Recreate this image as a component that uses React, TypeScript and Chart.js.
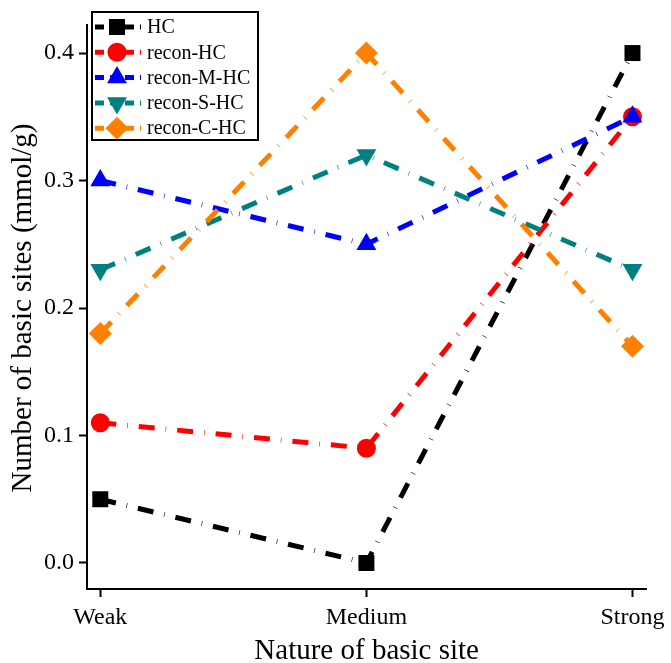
import React, { useEffect, useRef } from "react";
import { Chart, registerables } from "chart.js";
Chart.register(...registerables);

const categories = ["Weak", "Medium", "Strong"];
const hc = [0.05, 0.0, 0.4];
const reconHC = [0.11, 0.09, 0.35];
const reconMHC = [0.3, 0.25, 0.35];
const reconSHC = [0.23, 0.32, 0.23];
const reconCHC = [0.18, 0.4, 0.17];
const seriesNames = ["HC", "recon-HC", "recon-M-HC", "recon-S-HC", "recon-C-HC"];
const yTicks = [0.0, 0.1, 0.2, 0.3, 0.4];

const FONT = "'Liberation Serif', 'Times New Roman', serif";
const DASH = [16, 11, 0.6, 11];

export default function App() {
  const ref = useRef<HTMLCanvasElement>(null);
  useEffect(() => {
    const styles = [
      { c: "#000000", p: "rect", r: 11.3, rot: 0 },
      { c: "#ff0000", p: "circle", r: 9.5, rot: 0 },
      { c: "#0000ff", p: "triangle", r: 11.5, rot: 0 },
      { c: "#008080", p: "triangle", r: 11.5, rot: 180 },
      { c: "#ff8000", p: "rectRot", r: 11.5, rot: 0 },
    ];
    const values = [hc, reconHC, reconMHC, reconSHC, reconCHC];
    const datasets = values.map((v, i) => ({
      label: seriesNames[i],
      data: v.map((y, j) => ({ x: j, y })),
      borderColor: styles[i].c,
      backgroundColor: styles[i].c,
      borderWidth: 5,
      borderDash: DASH,
      pointStyle: styles[i].p as any,
      pointRadius: styles[i].r,
      pointRotation: styles[i].rot,
      pointBorderWidth: 0,
      pointBackgroundColor: styles[i].c,
      pointBorderColor: styles[i].c,
      order: 5 - i,
      clip: false as any,
      tension: 0,
    }));

    function drawPoint(ctx: any, p: string, r: number, rot: number, x: number, y: number) {
      ctx.beginPath();
      if (p === "rect") {
        const s = r * Math.SQRT1_2;
        ctx.rect(x - s, y - s, 2 * s, 2 * s);
      } else if (p === "circle") {
        ctx.arc(x, y, r, 0, Math.PI * 2);
      } else if (p === "triangle") {
        const a = (rot * Math.PI) / 180;
        for (let k = 0; k < 3; k++) {
          const t = a - Math.PI / 2 + (k * 2 * Math.PI) / 3;
          const px = x + Math.cos(t) * r;
          const py = y + Math.sin(t) * r;
          if (k === 0) ctx.moveTo(px, py);
          else ctx.lineTo(px, py);
        }
        ctx.closePath();
      } else if (p === "rectRot") {
        ctx.moveTo(x, y - r);
        ctx.lineTo(x + r, y);
        ctx.lineTo(x, y + r);
        ctx.lineTo(x - r, y);
        ctx.closePath();
      }
      ctx.fill();
    }

    const custom = {
      id: "custom",
      afterDraw(chart: any) {
        const ctx = chart.ctx;
        const area = chart.chartArea;
        ctx.save();
        ctx.fillStyle = "#000";
        ctx.font = `29px ${FONT}`;
        ctx.textAlign = "center";
        ctx.textBaseline = "middle";
        ctx.fillText("Nature of basic site", (area.left + area.right) / 2, 651);
        ctx.save();
        ctx.translate(23, 308);
        ctx.rotate(-Math.PI / 2);
        ctx.fillText("Number of basic sites (mmol/g)", 0, 0);
        ctx.restore();
        // legend
        const lx = 92, ly = 12, lw = 166, lh = 128;
        ctx.fillStyle = "#fff";
        ctx.fillRect(lx, ly, lw, lh);
        ctx.strokeStyle = "#000";
        ctx.lineWidth = 2;
        ctx.strokeRect(lx, ly, lw, lh);
        ctx.font = `20px ${FONT}`;
        ctx.textAlign = "left";
        for (let i = 0; i < 5; i++) {
          const y = 27 + i * 25.3;
          ctx.strokeStyle = styles[i].c;
          ctx.lineWidth = 5;
          ctx.setLineDash([9, 6]);
          ctx.beginPath();
          ctx.moveTo(95, y);
          ctx.lineTo(141, y);
          ctx.stroke();
          ctx.setLineDash([]);
          ctx.fillStyle = styles[i].c;
          drawPoint(ctx, styles[i].p, styles[i].r, styles[i].rot, 117, y);
          ctx.fillStyle = "#000";
          ctx.fillText(seriesNames[i], 147, y + 1);
        }
        ctx.restore();
      },
    };

    const chart = new Chart(ref.current!, {
      type: "line",
      data: { datasets: datasets as any },
      plugins: [custom],
      options: {
        animation: false,
        responsive: false,
        maintainAspectRatio: false,
        layout: { padding: { left: 0, top: 25, right: 21, bottom: 0 } },
        plugins: { legend: { display: false }, tooltip: { enabled: false } },
        scales: {
          x: {
            type: "linear",
            min: -0.05,
            max: 2.052,
            afterFit: (s: any) => { s.height = 74; },
            afterBuildTicks: (s: any) => { s.ticks = categories.map((_, i) => ({ value: i })); },
            grid: { display: true, drawOnChartArea: false, drawTicks: true, tickLength: 8, tickWidth: 2, tickColor: "#000" },
            border: { display: true, color: "#000", width: 2 },
            ticks: {
              color: "#000",
              font: { family: FONT, size: 24 },
              padding: 6,
              maxRotation: 0,
              autoSkip: false,
              callback: (v: any) => categories[Math.round(v)] ?? "",
            },
          },
          y: {
            type: "linear",
            min: -0.0204,
            max: 0.422,
            afterFit: (s: any) => { s.width = 87; },
            afterBuildTicks: (s: any) => { s.ticks = yTicks.map((v) => ({ value: v })); },
            grid: { display: true, drawOnChartArea: false, drawTicks: true, tickLength: 8, tickWidth: 2, tickColor: "#000" },
            border: { display: true, color: "#000", width: 2 },
            ticks: {
              color: "#000",
              font: { family: FONT, size: 24 },
              padding: 5,
              autoSkip: false,
              callback: (v: any) => Number(v).toFixed(1),
            },
          },
        },
      },
    });
    return () => chart.destroy();
  }, []);
  return (
    <div style={{ position: "fixed", left: 0, top: 0, width: 671, height: 663, background: "#fff" }}>
      <canvas ref={ref} width={671} height={663} style={{ width: 671, height: 663 }} />
    </div>
  );
}
